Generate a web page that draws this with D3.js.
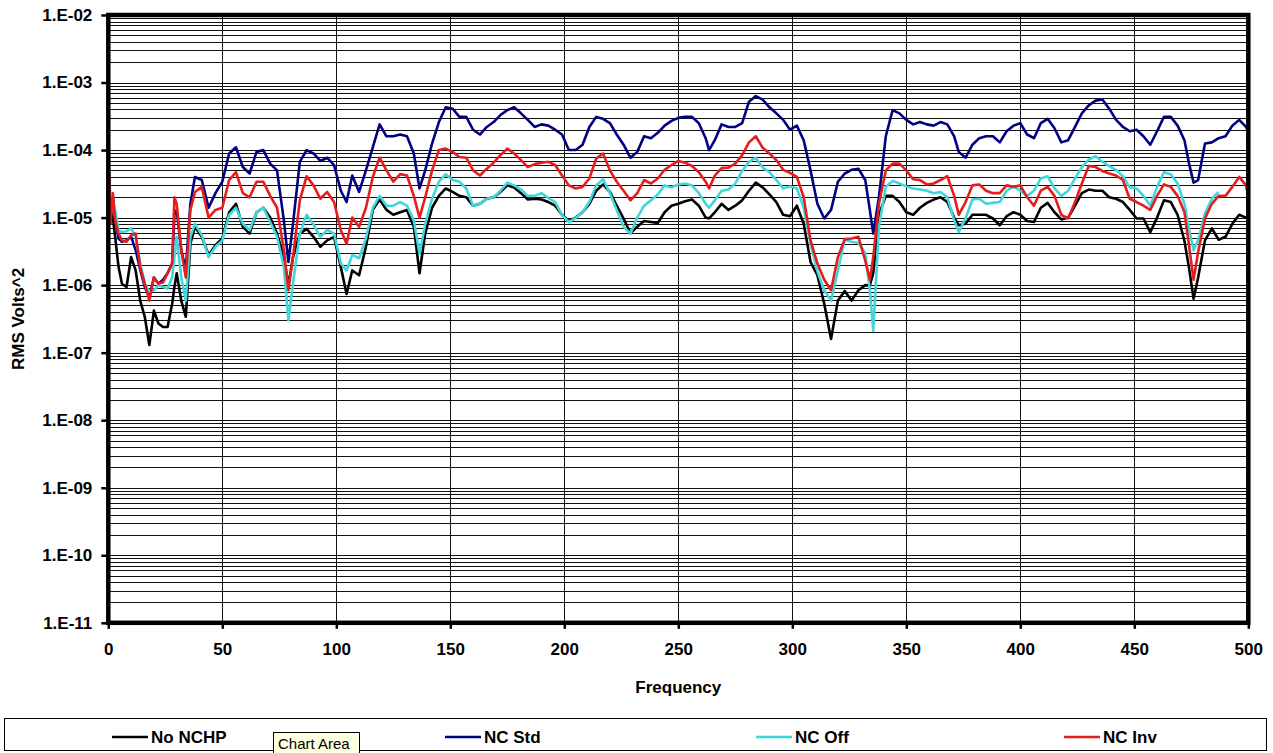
<!DOCTYPE html>
<html>
<head>
<meta charset="utf-8">
<script src="https://cdn.jsdelivr.net/npm/d3@7"></script>
<style>
  body { margin: 0; background: #ffffff; }
  svg { display: block; }
  text { font-family: "Liberation Sans", Arial, sans-serif; }
</style>
</head>
<body>
<svg id="chart" width="1273" height="753"></svg>
<script>
// Frequency grid (Hz) shared by all four traces
const frequency = [
  0,1,2,3,4.5,6,8,10,12,14,16,18,20,22,24,26,28,29,30,32,34,36,38,41,44,47,50,53,56,59,62,65,68,71,74,77,79,81,84,87,90,93,96,99,102,104.5,107,110,113,116,119,122,
  125,128,131,134,136.5,139,142,145,148,151,154,157,160,163,166,169,172,175,178,181,184,187,190,193,196,199,202,205,208,211,214,217,220,223,226,229,232,235,238,241,244,247,
  250,253,256,259,262,263.5,266,269,272,275,278,281,284,287,290,293,296,299,302,305,308,311,314,317,320,323,326,329,332,334,335.5,338,341,344,347,350,353,356,359,362,365,368,371,373,
  376,379,382,385,388,391,394,397,400,403,406,409,412,415,418,421,424,427,430,433,436,439,442,445,448,451,454,457,460,463,466,469,472,474,476,478,481,484,487,490,493,496,499,500
];

// RMS Volts^2 per trace
const noNchp = [
  1.6e-5,1.3e-5,1.0e-5,5.2e-6,1.85e-6,1.05e-6,9.4e-7,2.6e-6,1.65e-6,5.9e-7,3.4e-7,1.3e-7,4.2e-7,2.7e-7,2.4e-7,2.4e-7,5.3e-7,9.4e-7,1.5e-6,5.9e-7,3.4e-7,4.1e-6,7.3e-6,5.2e-6,2.8e-6,3.9e-6,4.9e-6,1.2e-5,1.6e-5,7.3e-6,5.8e-6,1.2e-5,1.4e-5,1.0e-5,5.8e-6,2.6e-6,1.0e-6,2.6e-6,5.8e-6,6.8e-6,5.2e-6,3.7e-6,4.6e-6,5.2e-6,1.85e-6,7.4e-7,1.65e-6,1.4e-6,3.7e-6,1.3e-5,1.85e-5,1.3e-5,
  1.1e-5,1.2e-5,1.3e-5,7.3e-6,1.5e-6,5.8e-6,1.4e-5,2.1e-5,2.7e-5,2.4e-5,2.1e-5,2.0e-5,1.5e-5,1.6e-5,1.9e-5,2.0e-5,2.4e-5,3.0e-5,2.8e-5,2.3e-5,1.85e-5,1.9e-5,1.85e-5,1.7e-5,1.5e-5,1.1e-5,8.9e-6,1.0e-5,1.2e-5,1.6e-5,2.5e-5,3.1e-5,2.4e-5,1.5e-5,9.7e-6,5.9e-6,7.3e-6,8.9e-6,8.6e-6,8.3e-6,1.2e-5,1.5e-5,
  1.6e-5,1.75e-5,1.85e-5,1.5e-5,1.0e-5,9.7e-6,1.2e-5,1.6e-5,1.3e-5,1.5e-5,1.8e-5,2.5e-5,3.3e-5,2.8e-5,2.2e-5,1.7e-5,1.1e-5,1.05e-5,1.5e-5,8.1e-6,2.2e-6,1.4e-6,5.3e-7,1.6e-7,5.9e-7,8.2e-7,5.9e-7,8.4e-7,1.0e-6,9.9e-7,1.5e-6,1.1e-5,2.1e-5,2.1e-5,1.7e-5,1.2e-5,1.1e-5,1.4e-5,1.65e-5,1.85e-5,2.0e-5,1.7e-5,1.0e-5,7.7e-6,
  8.1e-6,1.1e-5,1.1e-5,1.1e-5,9.7e-6,7.7e-6,1.05e-5,1.2e-5,1.1e-5,8.9e-6,8.6e-6,1.4e-5,1.65e-5,1.2e-5,9.4e-6,1.0e-5,1.5e-5,2.3e-5,2.6e-5,2.5e-5,2.5e-5,2.0e-5,1.9e-5,1.7e-5,1.3e-5,9.7e-6,9.7e-6,6.1e-6,1.0e-5,1.8e-5,1.7e-5,1.1e-5,4.5e-6,1.8e-6,6.3e-7,1.3e-6,4.6e-6,6.9e-6,4.7e-6,5.2e-6,8.1e-6,1.1e-5,1.0e-5,1.0e-5
];
const ncStd = [
  9.5e-5,1.3e-5,2.0e-5,1.0e-5,4.9e-6,4.4e-6,4.6e-6,5.2e-6,3.3e-6,1.7e-6,9.4e-7,6.7e-7,1.3e-6,1.05e-6,1.2e-6,1.5e-6,2.1e-6,1.1e-5,1.3e-5,3.3e-6,1.7e-6,1.6e-5,4.0e-5,3.6e-5,1.4e-5,2.3e-5,3.4e-5,8.9e-5,1.1e-4,5.6e-5,4.5e-5,9.4e-5,1.0e-4,6.3e-5,5.0e-5,9.1e-6,2.2e-6,8.1e-6,6.7e-5,1.0e-4,8.9e-5,6.9e-5,7.7e-5,6.0e-5,2.5e-5,1.7e-5,4.2e-5,2.4e-5,5.0e-5,1.1e-4,2.4e-4,1.6e-4,
  1.6e-4,1.7e-4,1.6e-4,8.9e-5,2.7e-5,5.0e-5,1.25e-4,2.6e-4,4.3e-4,4.1e-4,3.1e-4,3.1e-4,2.0e-4,1.7e-4,2.2e-4,2.6e-4,3.3e-4,3.9e-4,4.3e-4,3.5e-4,2.8e-4,2.2e-4,2.4e-4,2.3e-4,2.0e-4,1.7e-4,1.0e-4,1.0e-4,1.2e-4,2.2e-4,3.1e-4,2.9e-4,2.5e-4,1.7e-4,1.2e-4,7.7e-5,9.4e-5,1.6e-4,1.5e-4,1.8e-4,2.3e-4,2.7e-4,
  3.0e-4,3.1e-4,3.1e-4,2.5e-4,1.5e-4,1.0e-4,1.4e-4,2.4e-4,2.2e-4,2.2e-4,2.5e-4,5.2e-4,6.3e-4,5.6e-4,4.3e-4,3.5e-4,2.8e-4,2.0e-4,2.3e-4,1.4e-4,5.0e-5,1.6e-5,9.7e-6,1.3e-5,3.4e-5,4.5e-5,5.1e-5,5.3e-5,3.6e-5,1.3e-5,5.8e-6,2.0e-5,1.6e-4,3.9e-4,3.5e-4,2.8e-4,2.4e-4,2.6e-4,2.4e-4,2.3e-4,2.6e-4,2.4e-4,1.6e-4,9.4e-5,
  7.7e-5,1.2e-4,1.5e-4,1.6e-4,1.6e-4,1.3e-4,1.9e-4,2.3e-4,2.5e-4,1.7e-4,1.5e-4,2.5e-4,2.9e-4,2.1e-4,1.3e-4,1.4e-4,2.2e-4,3.5e-4,4.6e-4,5.4e-4,5.6e-4,4.1e-4,2.8e-4,2.2e-4,1.9e-4,2.0e-4,1.6e-4,1.2e-4,1.9e-4,3.1e-4,3.1e-4,2.3e-4,1.4e-4,6.3e-5,3.3e-5,3.6e-5,1.25e-4,1.3e-4,1.5e-4,1.6e-4,2.3e-4,2.8e-4,2.2e-4,1.9e-4
];
const ncOff = [
  2.5e-5,2.0e-5,1.6e-5,1.3e-5,6.5e-6,6.1e-6,6.3e-6,6.9e-6,5.2e-6,2.1e-6,1.05e-6,7.9e-7,8.4e-7,9.9e-7,9.4e-7,8.9e-7,1.3e-6,2.6e-6,5.2e-6,1.3e-6,5.9e-7,5.2e-6,8.1e-6,5.5e-6,2.6e-6,3.7e-6,4.6e-6,1.1e-5,1.4e-5,8.1e-6,6.5e-6,1.2e-5,1.4e-5,8.6e-6,5.2e-6,1.85e-6,3.0e-7,1.05e-6,5.8e-6,1.1e-5,7.9e-6,5.2e-6,6.6e-6,5.8e-6,2.1e-6,1.65e-6,2.8e-6,2.5e-6,4.9e-6,1.4e-5,2.1e-5,1.5e-5,
  1.5e-5,1.7e-5,1.5e-5,9.1e-6,2.9e-6,8.1e-6,1.9e-5,3.4e-5,4.4e-5,3.6e-5,3.4e-5,2.7e-5,1.5e-5,1.6e-5,1.9e-5,2.0e-5,2.5e-5,3.3e-5,3.0e-5,2.6e-5,2.1e-5,2.1e-5,2.3e-5,1.95e-5,1.7e-5,1.1e-5,8.6e-6,9.9e-6,1.2e-5,1.7e-5,3.0e-5,3.7e-5,2.3e-5,1.3e-5,7.3e-6,5.8e-6,1.0e-5,1.5e-5,1.8e-5,2.2e-5,3.0e-5,2.8e-5,
  3.1e-5,3.2e-5,3.0e-5,2.3e-5,1.6e-5,1.4e-5,1.8e-5,2.5e-5,2.6e-5,3.2e-5,4.9e-5,6.7e-5,7.7e-5,5.5e-5,4.7e-5,3.6e-5,2.7e-5,2.9e-5,2.7e-5,1.4e-5,4.1e-6,1.6e-6,8.4e-7,5.9e-7,1.65e-6,4.7e-6,4.4e-6,4.2e-6,3.0e-6,8.4e-7,2.1e-7,7.3e-6,2.85e-5,3.5e-5,3.2e-5,2.9e-5,2.7e-5,2.6e-5,2.5e-5,2.3e-5,2.4e-5,2.0e-5,9.1e-6,6.1e-6,
  9.7e-6,1.85e-5,1.9e-5,1.6e-5,1.65e-5,1.7e-5,2.5e-5,2.9e-5,2.5e-5,2.1e-5,2.5e-5,3.8e-5,4.1e-5,2.7e-5,2.1e-5,2.5e-5,3.8e-5,5.6e-5,7.2e-5,8.1e-5,6.7e-5,5.8e-5,5.1e-5,4.1e-5,2.8e-5,2.7e-5,2.1e-5,1.5e-5,2.85e-5,4.7e-5,4.4e-5,3.2e-5,1.6e-5,6.8e-6,3.3e-6,4.6e-6,1.15e-5,1.9e-5,2.4e-5,null,null,null,null,null
];
const ncInv = [
  8.5e-5,8.1e-6,2.3e-5,9.1e-6,5.8e-6,4.6e-6,4.4e-6,5.5e-6,5.8e-6,1.85e-6,1.05e-6,5.9e-7,1.3e-6,1.05e-6,1.1e-6,1.5e-6,2.1e-6,2.0e-5,1.6e-5,3.3e-6,1.3e-6,1.3e-5,2.4e-5,2.85e-5,1.0e-5,1.3e-5,1.4e-5,3.6e-5,4.7e-5,2.3e-5,2.0e-5,3.4e-5,3.4e-5,2.1e-5,1.4e-5,3.3e-6,8.4e-7,2.6e-6,1.8e-5,4.1e-5,3.0e-5,1.9e-5,2.4e-5,1.7e-5,6.5e-6,4.1e-6,1.0e-5,7.3e-6,1.4e-5,4.0e-5,7.7e-5,5.0e-5,
  3.4e-5,4.4e-5,4.2e-5,2.1e-5,1.0e-5,2.0e-5,5.0e-5,1.0e-4,1.05e-4,9.4e-5,7.9e-5,7.7e-5,5.0e-5,4.2e-5,5.3e-5,6.5e-5,8.4e-5,1.05e-4,8.9e-5,7.1e-5,5.6e-5,6.2e-5,6.5e-5,6.7e-5,6.0e-5,4.2e-5,3.0e-5,2.7e-5,2.85e-5,3.8e-5,7.5e-5,8.9e-5,5.0e-5,3.4e-5,2.5e-5,1.8e-5,2.3e-5,3.6e-5,3.2e-5,3.8e-5,5.1e-5,6.0e-5,
  6.9e-5,6.5e-5,5.8e-5,4.7e-5,3.4e-5,2.7e-5,4.2e-5,5.4e-5,5.5e-5,6.3e-5,8.4e-5,1.3e-4,1.6e-4,1.08e-4,8.9e-5,7.1e-5,5.1e-5,4.6e-5,4.0e-5,2.0e-5,4.6e-6,2.1e-6,1.2e-6,8.4e-7,2.6e-6,4.8e-6,4.9e-6,5.2e-6,2.3e-6,1.2e-6,2.6e-6,1.6e-5,5.0e-5,6.3e-5,6.3e-5,5.0e-5,3.7e-5,3.6e-5,3.1e-5,3.2e-5,3.6e-5,4.1e-5,2.1e-5,1.1e-5,
  1.7e-5,3.0e-5,3.1e-5,2.5e-5,2.3e-5,2.3e-5,3.0e-5,2.85e-5,3.0e-5,2.0e-5,1.5e-5,2.5e-5,2.85e-5,2.1e-5,1.1e-5,9.7e-6,1.7e-5,3.2e-5,5.8e-5,5.6e-5,4.9e-5,4.5e-5,4.2e-5,3.6e-5,1.9e-5,1.7e-5,1.5e-5,1.3e-5,2.1e-5,3.1e-5,2.85e-5,2.1e-5,1.2e-5,3.9e-6,1.2e-6,3.1e-6,9.7e-6,1.6e-5,2.1e-5,2.1e-5,2.85e-5,4.0e-5,3.0e-5,2.1e-5
];

const seriesNames = ["No NCHP", "NC Std", "NC Off", "NC Inv"];
const xTickValues = [0, 50, 100, 150, 200, 250, 300, 350, 400, 450, 500];
const yDecadeExponents = [-11, -10, -9, -8, -7, -6, -5, -4, -3, -2];

// ---- drawing ----
const svg = d3.select("#chart");
const W = 1273, H = 753;
const plot = { left: 108.3, right: 1248.3, top: 15, bottom: 622.8 };

svg.append("rect").attr("width", W).attr("height", H).attr("fill", "#ffffff");

const x = d3.scaleLinear().domain([0, 500]).range([plot.left, plot.right]);
const y = d3.scaleLog().domain([1e-11, 1e-2]).range([plot.bottom, plot.top]);

const seriesStyle = {
  "No NCHP": { color: "#000000", values: noNchp },
  "NC Std":  { color: "#000080", values: ncStd },
  "NC Off":  { color: "#3fd6dc", values: ncOff },
  "NC Inv":  { color: "#e41e1e", values: ncInv }
};

// horizontal gridlines: every 1..9 x 10^n step
const gridValues = [];
yDecadeExponents.slice(0, -1).forEach(e => {
  for (let k = 1; k <= 9; k++) gridValues.push(k * Math.pow(10, e));
});
const grid = svg.append("g").attr("class", "grid");
grid.selectAll("line.h").data(gridValues).join("line")
  .attr("class", "h")
  .attr("x1", plot.left).attr("x2", plot.right)
  .attr("y1", d => Math.round(y(d)) + 0.5).attr("y2", d => Math.round(y(d)) + 0.5)
  .attr("stroke", "#111").attr("stroke-width", 1);
grid.selectAll("line.v").data(xTickValues.slice(1, -1)).join("line")
  .attr("class", "v")
  .attr("x1", d => Math.round(x(d)) + 0.5).attr("x2", d => Math.round(x(d)) + 0.5)
  .attr("y1", plot.top).attr("y2", plot.bottom)
  .attr("stroke", "#111").attr("stroke-width", 1);

// traces
const lineGen = d3.line()
  .defined(d => d.v != null)
  .x(d => x(d.f))
  .y(d => y(d.v));

const traces = svg.append("g").attr("class", "traces");
seriesNames.forEach(name => {
  const s = seriesStyle[name];
  const pts = frequency.map((f, i) => ({ f, v: s.values[i] }));
  traces.append("path")
    .datum(pts)
    .attr("d", lineGen)
    .attr("fill", "none")
    .attr("stroke", s.color)
    .attr("stroke-width", 2.6)
    .attr("stroke-linejoin", "round");
});

// heavy plot frame
svg.append("rect")
  .attr("x", plot.left).attr("y", plot.top)
  .attr("width", plot.right - plot.left).attr("height", plot.bottom - plot.top)
  .attr("fill", "none").attr("stroke", "#000").attr("stroke-width", 4.5);

// axes
const fmtExp = d => {
  const e = Math.round(Math.log10(d));
  return "1.E" + (e < 0 ? "-" : "+") + String(Math.abs(e)).padStart(2, "0");
};
const yAxis = d3.axisLeft(y)
  .tickValues(yDecadeExponents.map(e => Math.pow(10, e)))
  .tickFormat(fmtExp)
  .tickSize(7).tickPadding(9);
const xAxis = d3.axisBottom(x)
  .tickValues(xTickValues)
  .tickFormat(d3.format("d"))
  .tickSize(6).tickPadding(14);

const gy = svg.append("g").attr("transform", `translate(${plot.left},0)`).call(yAxis);
const gx = svg.append("g").attr("transform", `translate(0,${plot.bottom})`).call(xAxis);
[gx, gy].forEach(g => {
  g.select(".domain").remove();
  g.selectAll(".tick line").attr("stroke", "#000").attr("stroke-width", 2.5);
  g.selectAll(".tick text")
    .attr("fill", "#000")
    .style("font-family", "'Liberation Sans', Arial, sans-serif")
    .style("font-size", "17px").style("font-weight", "bold");
});

// axis titles
svg.append("text")
  .attr("x", (plot.left + plot.right) / 2).attr("y", 693)
  .attr("text-anchor", "middle")
  .style("font-size", "17px").style("font-weight", "bold")
  .text("Frequency");
svg.append("text")
  .attr("transform", `translate(24,${(plot.top + plot.bottom) / 2}) rotate(-90)`)
  .attr("text-anchor", "middle")
  .style("font-size", "17px").style("font-weight", "bold")
  .text("RMS Volts^2");

// legend
const legend = svg.append("g").attr("class", "legend");
legend.append("rect")
  .attr("x", 4.5).attr("y", 718.5).attr("width", 1262).attr("height", 32)
  .attr("fill", "#fff").attr("stroke", "#000").attr("stroke-width", 1);
const legendX = [112, 445, 756, 1064];
seriesNames.forEach((name, i) => {
  const g = legend.append("g").attr("transform", `translate(${legendX[i]},737)`);
  g.append("line").attr("x1", 0).attr("x2", 36).attr("y1", 0).attr("y2", 0)
    .attr("stroke", seriesStyle[name].color).attr("stroke-width", 2.6);
  g.append("text").attr("x", 39).attr("y", 6)
    .style("font-size", "17px").style("font-weight", "bold")
    .text(name);
});

// hover tooltip caption
const tip = svg.append("g").attr("class", "tooltip");
tip.append("rect").attr("x", 273.5).attr("y", 732.5).attr("width", 86).attr("height", 30)
  .attr("fill", "#ffffe1").attr("stroke", "#000").attr("stroke-width", 1);
tip.append("text").attr("x", 278).attr("y", 749)
  .style("font-size", "15px")
  .text("Chart Area");
</script>
</body>
</html>
